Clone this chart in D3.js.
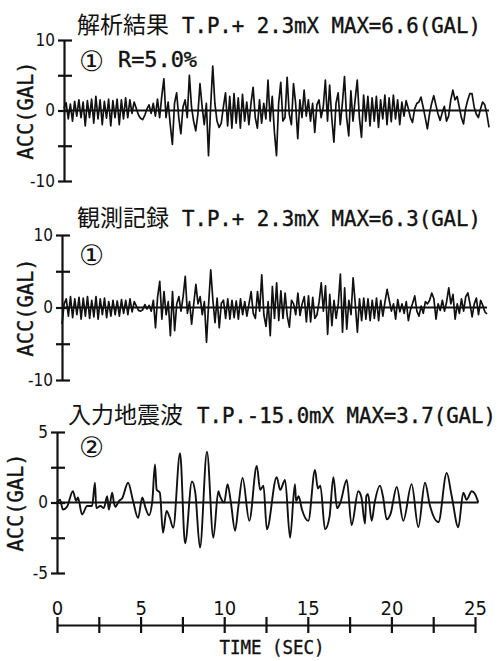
<!DOCTYPE html>
<html>
<head>
<meta charset="utf-8">
<script src="https://cdn.jsdelivr.net/npm/d3@7"></script>
<style>
body { margin: 0; background: #fff; }
</style>
</head>
<body>
<script>
var width = 501;
var height = 661;

// sample step of the two upper records (sec)
var DT = 0.125;

// 解析結果 (computed response), one row per second
var simAcc = [
  0.3, 1.1, -1.2, 0.9, -1.5, 1.3, -0.8, 1.5,
  -1.0, 1.2, -2.2, 1.4, -1.0, 1.6, -1.8, 2.0,
  -1.2, 1.5, -2.0, 1.3, -1.1, 1.6, -2.2, 1.4,
  -1.0, 1.6, -2.0, 1.5, -1.2, 1.8, -1.0, 1.5,
  -0.4, 1.2, 0.3, -0.6, -1.1, -1.3, -0.7, 0.2,
  0.8, -0.4, 1.0, -0.8, 1.6, -1.0, 2.0, 4.5,
  -1.0, 1.2, -2.0, -4.8, 1.0, 2.5, -1.0, -3.3,
  0.5, 1.5, -1.0, 5.0, 0.5, -1.5, -2.9, -0.5,
  3.8, 0.5, -2.0, 1.0, -6.4, 0.5, 6.3, 1.0,
  -1.5, -2.4, -1.8, 0.5, 2.5, -2.2, 2.0, -2.5,
  2.4, -1.8, 1.8, -2.5, 2.3, -1.5, 1.2, -2.0,
  1.0, 3.3, -1.0, -2.5, 1.5, -1.8, 1.0, -1.2,
  4.3, -1.5, 2.0, -3.0, -6.4, 1.0, 4.0, -1.5,
  -1.0, 4.7, -0.5, -2.0, 3.8, 1.0, -4.0, 1.5,
  -1.0, 2.9, -0.8, 1.5, -1.5, 1.0, -3.1, 0.8,
  1.5, -1.0, 0.5, 4.3, -1.5, 3.6, -1.0, -4.5,
  1.0, 2.5, -2.0, 1.0, 4.8, -1.0, -3.6, 2.8,
  -1.5, 1.5, 4.3, -1.0, -3.8, 2.2, -1.5, 2.0,
  -2.2, 1.8, -1.5, 2.0, -2.4, 1.5, -1.2, 2.2,
  -2.0, 1.8, -1.6, 2.2, -1.2, 1.5, -2.0, 1.2,
  -0.8, 1.4, 0.3, -1.0, -1.7, 0.2, 1.0, 1.2,
  1.9, 0.5, -1.0, -2.6, -0.5, 1.0, 2.1, 0.8,
  -0.5, -1.4, -0.3, 0.6, -1.5, -0.8, 1.5, 2.9,
  1.5, 2.0, 0.5, -1.0, -1.9, 0.3, 1.5, 2.4,
  2.4, 0.5, -0.5, -1.0, 0.2, 1.2, 0.8, -0.5,
  -2.4
];

// 観測記録 (observed record)
var obsAcc = [
  -2.3, 0.5, 1.2, -1.2, 1.5, -1.4, 1.2, -1.0,
  1.4, -1.6, 1.3, -1.2, 1.5, -1.5, 1.0, -1.3,
  1.5, -1.6, 1.2, -1.0, 1.3, -1.4, 0.8, -1.2,
  1.0, -1.0, 0.9, -1.2, 1.1, -0.8, 1.0, -1.0,
  1.2, -0.6, 0.8, 0.2, -0.4, -0.5, -0.3, 0.4,
  -0.2, 0.3, -0.5, 1.0, -2.8, 1.5, 3.6, -1.6,
  2.2, -1.0, 0.8, -3.9, 2.2, -3.2, 0.5, 1.5,
  -0.5, 1.5, 4.3, -0.8, 0.8, -2.3, 0.5, 3.2,
  0.5, 1.5, -1.0, 0.8, -4.8, 0.5, 5.2, 1.0,
  -2.1, 1.3, -2.8, 0.6, 1.0, -1.5, 1.2, -1.6,
  1.0, -1.4, 0.9, -1.6, 1.2, -1.0, 0.8, -1.2,
  0.5, 2.2, -0.8, -1.5, 2.2, -0.5, 4.5, -1.0,
  -2.6, 0.8, -3.9, 2.9, -1.5, 3.4, -1.8, 2.3,
  -1.5, 2.0, -1.2, -2.7, 1.0, 0.5, -1.0, 2.0,
  -1.1, 0.5, 1.5, -2.0, 1.6, -2.0, 1.4, -1.5,
  -1.0, 0.8, 3.4, -0.5, 3.0, -3.7, 1.8, -2.5,
  1.0, -1.5, 0.5, 4.6, -3.4, 2.7, -3.0, 1.0,
  -1.0, 4.1, 0.5, -3.4, 1.2, -1.8, 1.3, -1.6,
  1.2, -1.8, 1.0, -1.5, 1.3, -1.8, 1.0, -1.2,
  0.8, 2.5, 1.0, -0.5, 0.5, -1.6, 1.1, -0.6,
  0.5, -0.8, 0.8, -1.8, -0.3, 0.6, 1.6, -0.5,
  -1.2, 0.2, -0.8, 0.8, 0.5, 1.0, 2.0, 1.2,
  -1.6, 0.5, -0.4, 1.0, -0.5, 0.8, 2.7, 0.5,
  1.8, -1.6, 0.5, -0.8, 1.2, -0.5, 1.5, 2.0,
  0.5, -1.3, 0.5, 1.3, -1.0, 1.0, 0.3, -0.6,
  -0.9
];

// 入力地震波 (input wave), read at its turning points
var inTime = [0, 0.18, 0.35, 0.6, 0.95, 1.15, 1.25, 1.5, 1.8, 2.1, 2.27, 2.35, 2.6, 2.8, 3.0, 3.1,
  3.3, 3.4, 3.5, 3.7, 3.9, 4.25, 4.55, 4.85, 5.1, 5.3, 5.5, 5.7, 5.86, 5.96, 6.15, 6.34, 6.55,
  6.75, 6.95, 7.36, 7.66, 8.07, 8.27, 8.55, 8.97, 9.35, 9.65, 9.75, 10.0, 10.2, 10.4, 10.65,
  10.85, 11.1, 11.5, 11.95, 12.15, 12.35, 12.55, 13.14, 13.35, 13.64, 13.94, 14.23, 14.3, 14.45,
  14.65, 15.03, 15.43, 15.6, 15.75, 16.03, 16.3, 16.53, 16.75, 16.95, 17.33, 17.62, 18.02, 18.2,
  18.42, 18.5, 18.6, 18.82, 19.0, 19.32, 19.5, 19.72, 19.95, 20.32, 20.71, 21.21, 21.61, 22.01,
  22.3, 22.81, 23.31, 23.6, 24.0, 24.3, 24.5, 24.8, 25.0, 25.2];
var inAcc = [0, 0.2, -0.5, -0.3, 0.8, 0.1, 0.35, -0.85, -0.25, -0.25, 1.4, -0.4, -0.25, -0.4, 0.45, -0.5,
  0.7, 0.0, -0.3, 0.1, 0.3, 1.4, 0.1, -1.1, 0.35, -0.4, -0.9, 0.1, 2.7, 0.9, 0.7, -2.15, -0.6,
  -1.1, -1.8, 3.5, -2.9, 1.5, 0.7, -3.2, 3.6, -2.5, 0.8, 0.45, 0.0, 1.3, 0.0, -2.0,
  -0.25, 1.75, -1.3, 2.6, 0.9, 1.2, -1.9, 1.8, 0.9, 1.6, -2.5, 1.3, 0.1, 0.45,
  -0.5, -1.3, 2.3, 1.0, 1.2, -1.9, -1.0, 1.8, -0.4, 0.0, 1.6, -1.6, 0.8, 0.4,
  -1.5, 0.45, 0.6, -1.3, 0.0, 1.2, 0.4, -1.2, -0.8, 1.1, -1.3, 1.3, -1.75, 1.4,
  -0.2, -1.4, 2.1, 0.5, -1.75, 0.7, 0.2, 0.8, 0.6, 0.0];

var titleJa = ["解析結果", "観測記録", "入力地震波"];
var titleEn = ["T.P.+ 2.3mX MAX=6.6(GAL)", "T.P.+ 2.3mX MAX=6.3(GAL)", "T.P.-15.0mX MAX=3.7(GAL)"];
var caseMark = ["①", "①", "②"];
var dampText = "R=5.0%";
var yTicksWide = [-10, -5, 0, 5, 10];
var yTicksNarrow = [-5, -2.5, 0, 2.5, 5];
var timeTicks = [0, 2.5, 5, 7.5, 10, 12.5, 15, 17.5, 20, 22.5, 25];

function toPoints(vals) {
  return vals.map(function(v, i) { return { t: i * DT, v: v }; });
}

var panels = [
  { pts: toPoints(simAcc), ticks: yTicksWide, max: 10, x0: 64, x1: 489, top: 40, bot: 181,
    titleY: 33, jaX: 77, enX: 182, markY: 71, labX: 33, curve: d3.curveLinear },
  { pts: toPoints(obsAcc), ticks: yTicksWide, max: 10, x0: 62, x1: 487, top: 235, bot: 380,
    titleY: 226, jaX: 77, enX: 182, markY: 265, labX: 33, curve: d3.curveLinear },
  { pts: inTime.map(function(t, i) { return { t: t, v: inAcc[i] }; }), ticks: yTicksNarrow, max: 5,
    x0: 57, x1: 475, top: 432, bot: 573, titleY: 423, jaX: 68, enX: 197, markY: 457, labX: 23,
    curve: d3.curveMonotoneX }
];

var svg = d3.select("body").append("svg")
  .attr("width", width)
  .attr("height", height)
  .style("background", "#fff");

var mono = "'DejaVu Sans Mono', 'Liberation Mono', monospace";
var cond = "'DejaVu Sans Condensed', 'DejaVu Sans', sans-serif";
var cjk = "'Noto Sans CJK JP', 'Noto Sans CJK SC', sans-serif";
var ink = "#111";

var x3;

panels.forEach(function(p, k) {
  var x = d3.scaleLinear().domain([0, 25]).range([p.x0, p.x1]);
  var y = d3.scaleLinear().domain([-p.max, p.max]).range([p.bot, p.top]);
  if (k === 2) x3 = x;

  // title
  svg.append("text")
    .attr("x", p.jaX).attr("y", p.titleY)
    .attr("fill", ink)
    .style("font-family", cjk).style("font-size", "23px")
    .text(titleJa[k]);
  svg.append("text")
    .attr("x", p.enX).attr("y", p.titleY)
    .attr("textLength", 299).attr("lengthAdjust", "spacingAndGlyphs")
    .attr("fill", ink).attr("stroke", ink).attr("stroke-width", 0.4)
    .style("font-family", mono).style("font-size", "21px")
    .text(titleEn[k]);

  // case mark
  svg.append("text")
    .attr("x", 79).attr("y", p.markY)
    .attr("fill", ink)
    .style("font-family", "'DejaVu Sans', " + cjk).style("font-size", "28px")
    .text(caseMark[k]);
  if (k === 0) {
    svg.append("text")
      .attr("x", 118).attr("y", 67)
      .attr("textLength", 79).attr("lengthAdjust", "spacingAndGlyphs")
      .attr("fill", ink).attr("stroke", ink).attr("stroke-width", 0.4)
      .style("font-family", mono).style("font-size", "21px")
      .text(dampText);
  }

  // y label
  svg.append("text")
    .attr("transform", "translate(" + p.labX + "," + ((p.top + p.bot) / 2) + ") rotate(-90)")
    .attr("text-anchor", "middle")
    .attr("textLength", 98).attr("lengthAdjust", "spacingAndGlyphs")
    .attr("fill", ink).attr("stroke", ink).attr("stroke-width", 0.4)
    .style("font-family", mono).style("font-size", "21px")
    .text("ACC(GAL)");

  // zero line
  svg.append("line")
    .attr("x1", x(0)).attr("x2", x(d3.max(p.pts, function(d) { return d.t; })))
    .attr("y1", y(0)).attr("y2", y(0))
    .attr("stroke", ink).attr("stroke-width", 2);

  // y axis
  var ax = svg.append("g")
    .attr("transform", "translate(" + x(0) + ",0)")
    .call(d3.axisLeft(y)
      .tickValues(p.ticks)
      .tickSize(6)
      .tickSizeOuter(0)
      .tickPadding(3)
      .tickFormat(function(d) { return (d === 0 || Math.abs(d) === p.max) ? d : ""; }));
  ax.select(".domain").attr("stroke", ink).attr("stroke-width", 2.2);
  ax.selectAll(".tick line").attr("x1", 8).attr("stroke", ink).attr("stroke-width", 2.2);
  ax.selectAll(".tick text")
    .style("font-family", cond).style("font-size", "17px").attr("fill", ink);

  // wave
  var line = d3.line()
    .x(function(d) { return x(d.t); })
    .y(function(d) { return y(d.v); })
    .curve(p.curve);
  svg.append("path")
    .datum(p.pts)
    .attr("d", line)
    .attr("fill", "none")
    .attr("stroke", ink)
    .attr("stroke-width", k === 2 ? 1.9 : 1.7)
    .attr("stroke-linejoin", "round");
});

// time axis
var tx = svg.append("g")
  .attr("transform", "translate(0,625)")
  .call(d3.axisTop(x3)
    .tickValues(timeTicks)
    .tickSize(8)
    .tickSizeOuter(0)
    .tickPadding(2)
    .tickFormat(function(d) { return d % 5 === 0 ? d : ""; }));
tx.select(".domain").attr("stroke", ink).attr("stroke-width", 2.2);
tx.selectAll(".tick line").attr("y1", 8).attr("stroke", ink).attr("stroke-width", 2.2);
tx.selectAll(".tick text")
  .style("font-family", cond).style("font-size", "20px").attr("fill", ink);

svg.append("text")
  .attr("x", 272).attr("y", 654)
  .attr("text-anchor", "middle")
  .attr("textLength", 105).attr("lengthAdjust", "spacingAndGlyphs")
  .attr("fill", ink).attr("stroke", ink).attr("stroke-width", 0.4)
  .style("font-family", mono).style("font-size", "20px")
  .text("TIME (SEC)");
</script>
</body>
</html>
